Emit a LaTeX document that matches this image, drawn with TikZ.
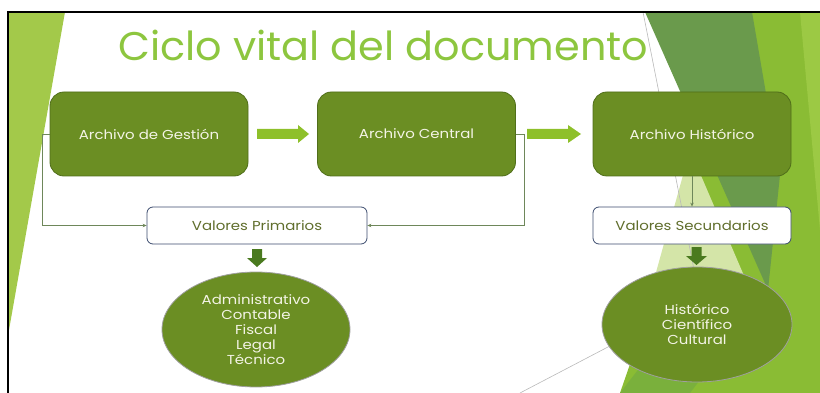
\documentclass[tikz,border=0pt]{standalone}
\usepackage{fontspec}
\setmainfont{Poppins}
\newfontfamily\boxfont{Poppins}[FakeStretch=1.15]
\newfontfamily\titlefont{Poppins}[FakeStretch=1.035]
\usetikzlibrary{shapes.geometric,arrows.meta}
\definecolor{olivefill}{RGB}{107,142,35}
\definecolor{olivedge}{RGB}{80,110,26}
\definecolor{cream}{RGB}{244,244,230}
\definecolor{valedge}{RGB}{60,76,110}
\definecolor{valtext}{RGB}{96,110,44}
\definecolor{connc}{RGB}{110,135,90}
\definecolor{lightarrow}{RGB}{142,192,42}
\definecolor{darkarrow}{RGB}{74,122,31}
\definecolor{titlec}{RGB}{141,198,63}
\definecolor{lefttri}{RGB}{163,201,74}
\definecolor{brightg}{RGB}{138,188,52}
\definecolor{brightg2}{RGB}{156,201,68}
\definecolor{paleg}{RGB}{212,229,168}
\definecolor{darkg}{RGB}{106,154,76}
\definecolor{midg}{RGB}{122,176,60}
\begin{document}
\begin{tikzpicture}[x=1pt,y=-1pt,
  archbox/.style={draw=olivedge, fill=olivefill, rounded corners=14pt, minimum width=198pt, minimum height=84pt, text=cream, font=\boxfont\fontsize{13}{15}\selectfont, line width=0.8pt, inner sep=0pt},
  valbox/.style={draw=valedge, fill=white, rounded corners=6pt, minimum height=37pt, text=valtext, font=\boxfont\fontsize{13}{15}\selectfont, line width=0.8pt, inner sep=0pt},
  ell/.style={ellipse, fill=olivefill, draw=gray!75, line width=0.8pt, align=center, text=cream, font=\boxfont\fontsize{13}{15}\selectfont, inner sep=0pt},
  conn/.style={draw=connc, line width=0.7pt, -{Stealth[length=4pt,width=3.5pt]}},
  thinline/.style={draw=gray!55, line width=0.6pt}
]
\useasboundingbox (0,0) rectangle (820,393);
% background decorations
\fill[lefttri] (9,12) -- (65,12) -- (9,330) -- cycle;
\fill[brightg] (752,12) -- (820,12) -- (820,393) -- (620,393) -- cycle;
\fill[brightg2] (800,12) -- (820,12) -- (820,230) -- cycle;
\fill[midg] (620,393) -- (690,393) -- (765,295) -- (700,290) -- cycle;
\fill[paleg] (690,150) -- (748,285) -- (640,330) -- cycle;
\fill[darkg] (645,12) -- (752,12) -- (780,175) -- (768,290) -- cycle;
\draw[thinline] (643,12) -- (700,300);
\draw[thinline] (520,393) -- (650,325);
% frame
\draw[black, line width=1.2pt] (8,393) -- (8,12) -- (820,12);
% title
\node[anchor=base west, inner sep=0pt, text=titlec, font=\titlefont\fontsize{40}{48}\selectfont] (title) at (118,61) {Ciclo vital del documento};
% boxes
\node[archbox] (ag) at (149,134) {Archivo de Gestión};
\node[archbox] (ac) at (416.5,134) {Archivo Central};
\node[archbox] (ah) at (692,134) {Archivo Histórico};
\node[valbox, minimum width=220pt] (vp) at (257,225.5) {Valores Primarios};
\node[valbox, minimum width=198pt] (vs) at (692,225.5) {Valores Secundarios};
\node[ell, minimum width=188pt, minimum height=115pt] (e1) at (256,329.5) {Administrativo\\Contable\\Fiscal\\Legal\\Técnico};
\node[ell, minimum width=190pt, minimum height=115pt] (e2) at (697,324.5) {Histórico\\Científico\\Cultural};
% connectors
\draw[conn] (ag.west) -- ++(-7,0) |- (vp.west);
\draw[conn] (ac.east) -- ++(8,0) |- (vp.east);
\draw[conn] (ah.south) -- (vs.north);
% block arrows
\fill[lightarrow] (257,129) -- (298,129) -- (298,125) -- (309,134) -- (298,143) -- (298,139) -- (257,139) -- cycle;
\fill[lightarrow] (527,129) -- (568,129) -- (568,125) -- (581,134) -- (568,143) -- (568,139) -- (527,139) -- cycle;
\fill[darkarrow] (252,249) -- (262,249) -- (262,258) -- (267,258) -- (257,267) -- (247,258) -- (252,258) -- cycle;
\fill[darkarrow] (691.5,247) -- (701.5,247) -- (701.5,256) -- (707,256) -- (696.5,265) -- (686,256) -- (691.5,256) -- cycle;
\end{tikzpicture}
\end{document}
